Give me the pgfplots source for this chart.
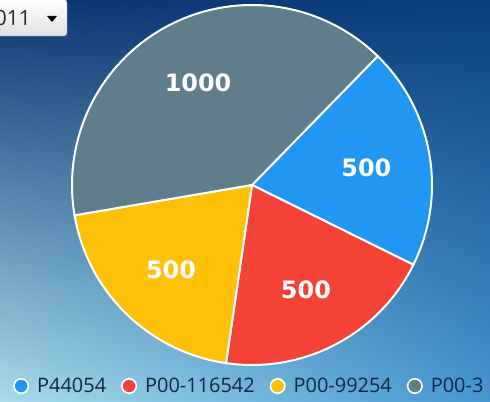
\documentclass[border=0pt]{standalone}
\usepackage{pgfplots}
\usepackage{pgfplotstable}
\pgfplotsset{compat=1.18}
\usetikzlibrary{shadings}
\usepackage{fontspec}
\setmainfont{Open Sans}
\newfontfamily\numfont{DejaVu Sans}
\definecolor{cblue}{HTML}{2196F3}
\definecolor{cred}{HTML}{F44336}
\definecolor{cyellow}{HTML}{FFC107}
\definecolor{cgray}{HTML}{607D8B}
\definecolor{legtext}{HTML}{15253F}
\definecolor{bgUL}{HTML}{0A3670}
\definecolor{bgUR}{HTML}{0B3E7E}
\definecolor{bgLL}{HTML}{A8DCEA}
\definecolor{bgLR}{HTML}{4596D0}

\pgfplotstableread{
name value
P44054 500
P00-116542 500
P00-99254 500
P00-3 1000
}\piedata

\begin{document}
\begin{tikzpicture}[x=1bp,y=1bp]
\pgfplotstablegetelem{0}{value}\of\piedata \let\va\pgfplotsretval
\pgfplotstablegetelem{1}{value}\of\piedata \let\vb\pgfplotsretval
\pgfplotstablegetelem{2}{value}\of\piedata \let\vc\pgfplotsretval
\pgfplotstablegetelem{3}{value}\of\piedata \let\vd\pgfplotsretval
\pgfmathsetmacro\tot{\va+\vb+\vc+\vd}
\pgfmathsetmacro\aA{45.7}
\pgfmathsetmacro\aB{\aA-360*(\va/\tot)}
\pgfmathsetmacro\aC{\aB-360*(\vb/\tot)}
\pgfmathsetmacro\aD{\aC-360*(\vc/\tot)}
\pgfmathsetmacro\aE{\aD-360*(\vd/\tot)}
\pgfmathsetmacro\mA{(\aA+\aB)/2}
\pgfmathsetmacro\mB{(\aB+\aC)/2}
\pgfmathsetmacro\mC{(\aC+\aD)/2}
\pgfmathsetmacro\mD{(\aD+\aE)/2}
\begin{scope}
\clip (0,0) rectangle (490,401);
\shade[upper left=bgUL, upper right=bgUR, lower left=bgLL, lower right=bgLR] (0,0) rectangle (490,401);
% dropdown
\shade[top color=white, bottom color=black!12, draw=black!40, rounded corners=3bp] (-10,365) rectangle (67,401.5);
\node[anchor=base east, inner sep=0pt, font=\fontsize{21}{24}\selectfont, text=black!85] at (31,376) {2011};
\fill[black] (47,385) -- (57,385) -- (52,379) -- cycle;
\begin{axis}[
  at={(0,0)}, anchor=south west,
  width=490bp, height=401bp, scale only axis,
  xmin=0, xmax=490, ymin=0, ymax=401,
  hide axis, clip=false,
  legend columns=-1,
  legend style={at={(axis cs:10,15)}, anchor=west, draw=none, fill=none,
    font=\fontsize{20}{24}\selectfont, text=legtext,
    /tikz/every even column/.append style={column sep=13bp},
    /tikz/every odd column/.append style={column sep=6bp}},
  legend image code/.code={\draw[#1, draw=white, line width=1.6bp] (0bp,0bp) circle (7.2bp);},
]
\addplot[fill=cblue, draw=white, line width=2bp, domain=\aB:\aA, samples=80, forget plot]
  ({252+180*cos(x)},{216+180*sin(x)}) -- (axis cs:252,216) -- cycle;
\addplot[fill=cred, draw=white, line width=2bp, domain=\aC:\aB, samples=80, forget plot]
  ({252+180*cos(x)},{216+180*sin(x)}) -- (axis cs:252,216) -- cycle;
\addplot[fill=cyellow, draw=white, line width=2bp, domain=\aD:\aC, samples=80, forget plot]
  ({252+180*cos(x)},{216+180*sin(x)}) -- (axis cs:252,216) -- cycle;
\addplot[fill=cgray, draw=white, line width=2bp, domain=\aE:\aD, samples=120, forget plot]
  ({252+180*cos(x)},{216+180*sin(x)}) -- (axis cs:252,216) -- cycle;
\node[text=white, font=\numfont\bfseries\fontsize{24}{28}\selectfont] at (axis cs:{252+116*cos(\mA)},{214+116*sin(\mA)}) {\va};
\node[text=white, font=\numfont\bfseries\fontsize{24}{28}\selectfont] at (axis cs:{252+116*cos(\mB)},{214+116*sin(\mB)}) {\vb};
\node[text=white, font=\numfont\bfseries\fontsize{24}{28}\selectfont] at (axis cs:{252+116*cos(\mC)},{214+116*sin(\mC)}) {\vc};
\node[text=white, font=\numfont\bfseries\fontsize{24}{28}\selectfont] at (axis cs:{252+116*cos(\mD)},{216+116*sin(\mD)}) {\vd};
\addlegendimage{fill=cblue}
\addlegendentry{P44054}
\addlegendimage{fill=cred}
\addlegendentry{P00-116542}
\addlegendimage{fill=cyellow}
\addlegendentry{P00-99254}
\addlegendimage{fill=cgray}
\addlegendentry{P00-3}
\end{axis}
\end{scope}
\end{tikzpicture}
\end{document}
